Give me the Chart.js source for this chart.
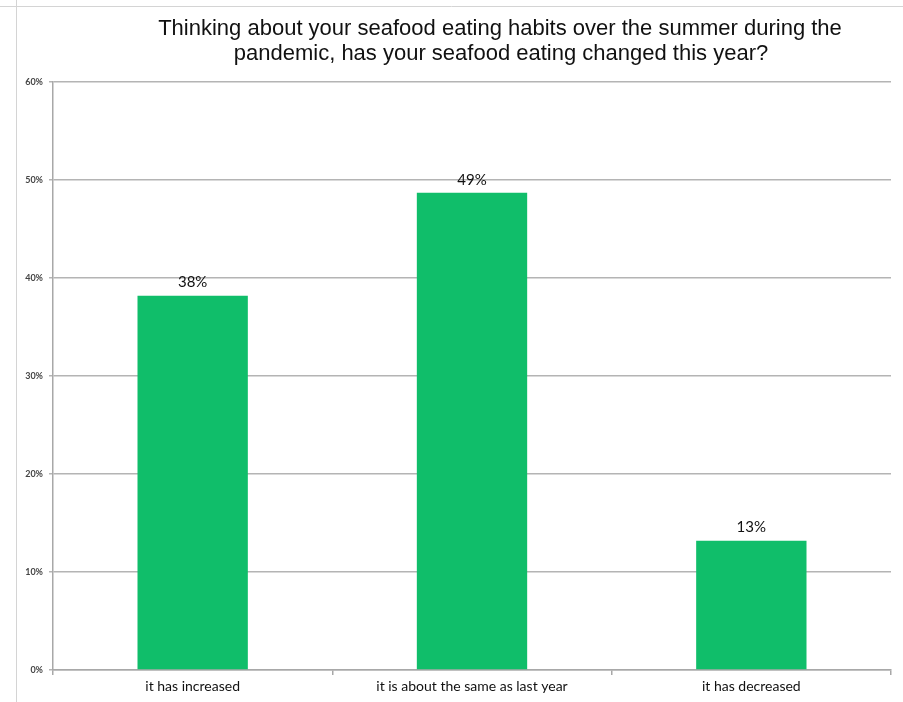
<!DOCTYPE html>
<html><head><meta charset="utf-8">
<script src="https://cdn.jsdelivr.net/npm/chart.js@4"></script>
<style>html,body{margin:0;padding:0;background:#fff}#wrap{width:903px;height:702px;position:relative}</style>
</head><body><div id="wrap"><canvas id="c" width="903" height="702"></canvas></div>
<script>
const categories = ["it has increased", "it is about the same as last year", "it has decreased"];
const values = [38.2, 48.7, 13.2];
const valueLabels = ["38%", "49%", "13%"];
const yTicks = [0, 10, 20, 30, 40, 50, 60];
const titleLines = ["Thinking about your seafood eating habits over the summer during the", "pandemic, has your seafood eating changed this year?"];

const decor = {
  id: 'decor',
  beforeDraw(chart) {
    const ctx = chart.ctx;
    ctx.save();
    ctx.strokeStyle = '#d4d4d4';
    ctx.lineWidth = 1;
    ctx.beginPath(); ctx.moveTo(16.5, 0); ctx.lineTo(16.5, 702); ctx.stroke();
    ctx.beginPath(); ctx.moveTo(0, 6.5); ctx.lineTo(903, 6.5); ctx.stroke();
    ctx.restore();
  },
  afterDraw(chart) {
    const ctx = chart.ctx;
    ctx.save();
    ctx.fillStyle = '#111';
    ctx.font = '22px "Liberation Sans", Arial, sans-serif';
    ctx.textAlign = 'center';
    ctx.textBaseline = 'alphabetic';
    ctx.fillText(titleLines[0], 500, 35);
    ctx.fillText(titleLines[1], 501, 60);
    // value labels
    const meta = chart.getDatasetMeta(0);
    ctx.font = '15px Lato, "Open Sans", sans-serif';
    ctx.fillStyle = '#111';
    ctx.textBaseline = 'middle';
    meta.data.forEach((bar, i) => {
      ctx.fillText(valueLabels[i], bar.x, bar.y - 13);
    });
    ctx.restore();
  }
};

new Chart(document.getElementById('c'), {
  type: 'bar',
  data: {
    labels: categories,
    datasets: [{
      data: values,
      backgroundColor: '#10BE6A',
      borderWidth: 0,
      barPercentage: 0.395,
      categoryPercentage: 1.0
    }]
  },
  options: {
    responsive: false,
    animation: false,
    events: [],
    layout: { padding: { left: 0, right: 12, top: 82, bottom: 0 } },
    plugins: { legend: { display: false }, title: { display: false }, tooltip: { enabled: false } },
    scales: {
      x: {
        grid: { display: true, drawOnChartArea: false, drawTicks: true, tickLength: 5, color: '#a8a8a8', lineWidth: 1.5, offset: true },
        border: { display: true, color: '#a8a8a8', width: 1.5 },
        ticks: { color: '#111', font: { family: 'Lato, "Open Sans", sans-serif', size: 14 }, padding: 3 },
        afterFit(s) { s.height = 32; }
      },
      y: {
        min: 0, max: 60,
        afterBuildTicks(s) { s.ticks = yTicks.map(v => ({ value: v })); },
        grid: { color: '#b4b4b4', lineWidth: 1.5, drawTicks: true, tickLength: 4 },
        border: { display: true, color: '#a8a8a8', width: 1.5 },
        ticks: { color: '#444', font: { family: 'Lato, "Open Sans", sans-serif', size: 9, weight: 'bold' }, padding: 6, callback: v => v + '%' },
        afterFit(s) { s.width = 53; }
      }
    }
  },
  plugins: [decor]
});
</script></body></html>
